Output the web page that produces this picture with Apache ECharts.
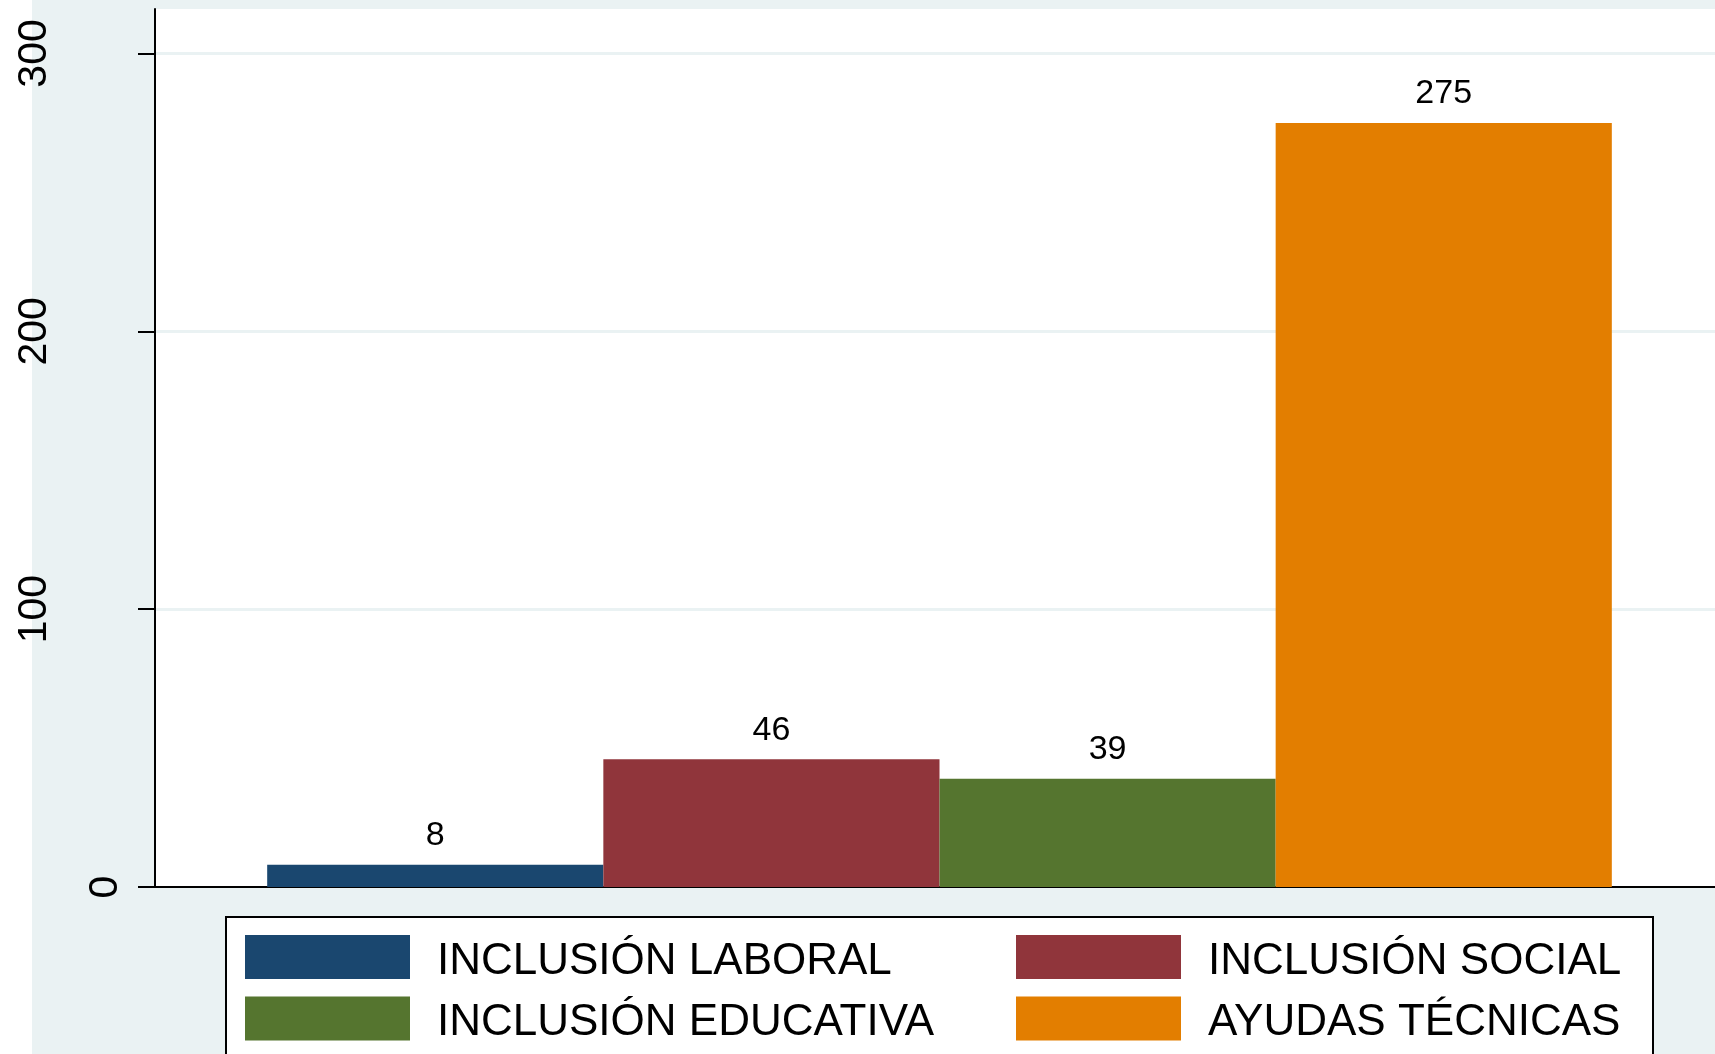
<!DOCTYPE html>
<html>
<head>
<meta charset="utf-8">
<script src="https://cdn.jsdelivr.net/npm/echarts@6/dist/echarts.min.js"></script>
<style>
html,body{margin:0;padding:0;background:#ffffff;width:1715px;height:1054px;overflow:hidden;}
#chart{position:absolute;left:0;top:0;width:1715px;height:1054px;}
</style>
</head>
<body>
<div id="chart"></div>
<script>
const seriesNames = ['INCLUSIÓN LABORAL', 'INCLUSIÓN SOCIAL', 'INCLUSIÓN EDUCATIVA', 'AYUDAS TÉCNICAS'];
const seriesValues = [8, 46, 39, 275];
const seriesColors = ['#1A476F', '#90353B', '#55752F', '#E37E00'];
const yTicks = [0, 100, 200, 300];

const chart = echarts.init(document.getElementById('chart'));
const font = 'Liberation Sans, Arial, sans-serif';

const series = seriesNames.map((name, i) => ({
  name: name,
  type: 'bar',
  data: [seriesValues[i]],
  itemStyle: { color: seriesColors[i] },
  barGap: '0%',
  barCategoryGap: '14.3%',
  label: {
    show: true,
    position: 'top',
    distance: 12,
    color: '#000',
    fontSize: 34,
    fontFamily: font
  }
}));

const legendText = {
  color: '#000', fontSize: 44, fontFamily: font,
  rich: { t: { color: '#000', fontSize: 44, fontFamily: font, padding: [9, 0, 0, 22] } }
};
const legendFmt = function (name) { return '{t|' + name + '}'; };

chart.setOption({
  backgroundColor: '#ffffff',
  animation: false,
  grid: {
    left: 155, right: -9, top: 9, bottom: 167,
    outerBoundsMode: 'none',
    containLabel: false,
    show: true, backgroundColor: '#ffffff', borderWidth: 0
  },
  xAxis: {
    type: 'category',
    data: [''],
    axisLine: { lineStyle: { color: '#000', width: 2 } },
    axisTick: { show: false },
    axisLabel: { show: false },
    splitLine: { show: false }
  },
  yAxis: {
    type: 'value',
    min: 0, max: 316, interval: 100,
    axisLine: { show: true, lineStyle: { color: '#000', width: 2 } },
    axisTick: { show: true, length: 17, lineStyle: { color: '#000', width: 2 }, customValues: yTicks },
    axisLabel: {
      rotate: 90, margin: 29, color: '#000', fontSize: 41, fontFamily: font,
      customValues: yTicks,
      formatter: function (v) { return v === 0 ? '{z|0}' : '{n|' + v + '}'; },
      rich: {
        z: { fontSize: 41, fontFamily: font, color: '#000' },
        n: { fontSize: 41, fontFamily: font, color: '#000', padding: [0, 0, 71, 0] }
      }
    },
    splitLine: { show: true, lineStyle: { color: '#EAF2F3', width: 3 } }
  },
  graphic: [{
    type: 'rect',
    shape: { x: 32, y: 0, width: 1683, height: 1054 },
    style: { fill: '#EAF2F3' },
    z: -100, silent: true
  }, {
    type: 'rect',
    shape: { x: 226, y: 917, width: 1427, height: 200 },
    style: { fill: '#ffffff', stroke: '#000', lineWidth: 2 },
    z: 1
  }],
  legend: [{
    data: [seriesNames[0], seriesNames[2]],
    orient: 'vertical', left: 245, top: 935, padding: 0,
    itemWidth: 165, itemHeight: 44, itemGap: 13,
    icon: 'rect',
    formatter: legendFmt,
    textStyle: legendText
  }, {
    data: [seriesNames[1], seriesNames[3]],
    orient: 'vertical', left: 1016, top: 935, padding: 0,
    itemWidth: 165, itemHeight: 44, itemGap: 13,
    icon: 'rect',
    formatter: legendFmt,
    textStyle: legendText
  }],
  series: series
});
</script>
</body>
</html>
